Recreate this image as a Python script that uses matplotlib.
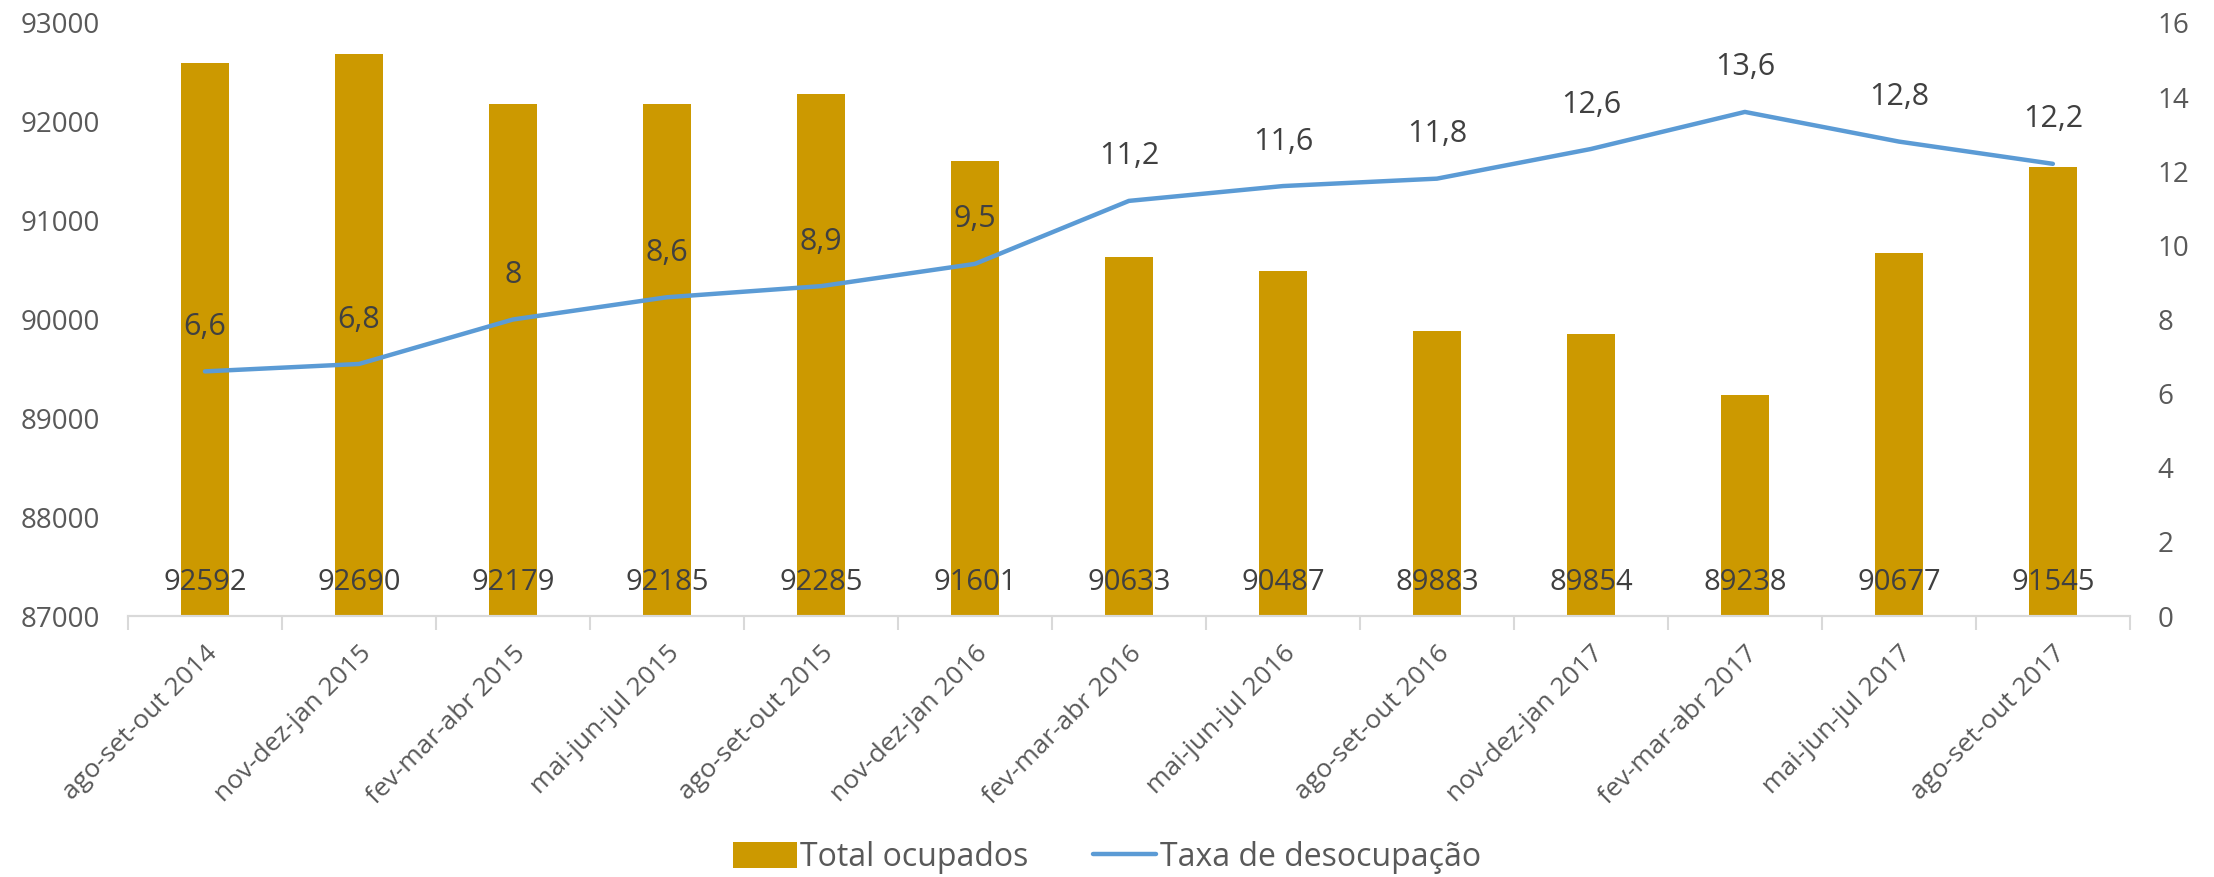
import matplotlib.pyplot as plt
import numpy as np

# Dados
periodos = ['ago-set-out 2014', 'nov-dez-jan 2015', 'fev-mar-abr 2015', 'mai-jun-jul 2015',
            'ago-set-out 2015', 'nov-dez-jan 2016', 'fev-mar-abr 2016', 'mai-jun-jul 2016',
            'ago-set-out 2016', 'nov-dez-jan 2017', 'fev-mar-abr 2017', 'mai-jun-jul 2017',
            'ago-set-out 2017']
ocupados = [92592, 92690, 92179, 92185, 92285, 91601, 90633, 90487, 89883, 89854, 89238, 90677, 91545]
taxa = [6.6, 6.8, 8.0, 8.6, 8.9, 9.5, 11.2, 11.6, 11.8, 12.6, 13.6, 12.8, 12.2]

plt.rcParams['font.family'] = ['Open Sans', 'DejaVu Sans']

fig = plt.figure(figsize=(22.14, 8.77), dpi=100)
ax = fig.add_axes([0.0578, 0.2976, 0.9042, 0.6762])
ax2 = ax.twinx()

x = np.arange(len(periodos))
bars = ax.bar(x, ocupados, width=0.31, color='#CC9900', label='Total ocupados', zorder=2)
line, = ax2.plot(x, taxa, color='#5B9BD5', linewidth=3.2, label='Taxa de desocupação',
                 solid_capstyle='round', zorder=3)

ax.set_ylim(87000, 93000)
ax2.set_ylim(0, 16)
ax.set_xlim(-0.5, len(periodos) - 0.5)

# rótulos das barras, perto da base
for xi, v in zip(x, ocupados):
    ax.annotate(str(v), (xi, 87000), xytext=(0, 24), textcoords='offset points',
                ha='center', va='center', fontsize=21, color='#404040')

# rótulos da linha
for xi, v in zip(x, taxa):
    txt = ('%g' % v).replace('.', ',')
    ax2.annotate(txt, (xi, v), xytext=(0, 32), textcoords='offset points',
                 ha='center', va='center', fontsize=22, color='#404040')

ax.set_yticks(np.arange(87000, 93001, 1000))
ax2.set_yticks(np.arange(0, 17, 2))
ax.tick_params(axis='y', length=0, labelsize=20, labelcolor='#595959', pad=20)
ax2.tick_params(axis='y', length=0, labelsize=20, labelcolor='#595959', pad=20)

ax.set_xticks(x)
ax.set_xticklabels(periodos, rotation=45, ha='right', rotation_mode='anchor',
                   fontsize=19, color='#595959')
ax.tick_params(axis='x', which='major', length=0, pad=18)
ax.set_xticks(np.arange(-0.5, len(periodos), 1), minor=True)
ax.tick_params(axis='x', which='minor', length=10, color='#D9D9D9', width=1.5)

for a in (ax, ax2):
    for s in ('top', 'left', 'right'):
        a.spines[s].set_visible(False)
    a.spines['bottom'].set_color('#D9D9D9')
    a.spines['bottom'].set_linewidth(1.5)

fig.legend(handles=[bars, line], loc='center', bbox_to_anchor=(0.5, 0.022), ncol=2,
           frameon=False, fontsize=23, labelcolor='#595959', handlelength=2.0,
           handleheight=0.9, handletextpad=0.1, columnspacing=2.0)

fig.savefig('out.png', dpi=100)
